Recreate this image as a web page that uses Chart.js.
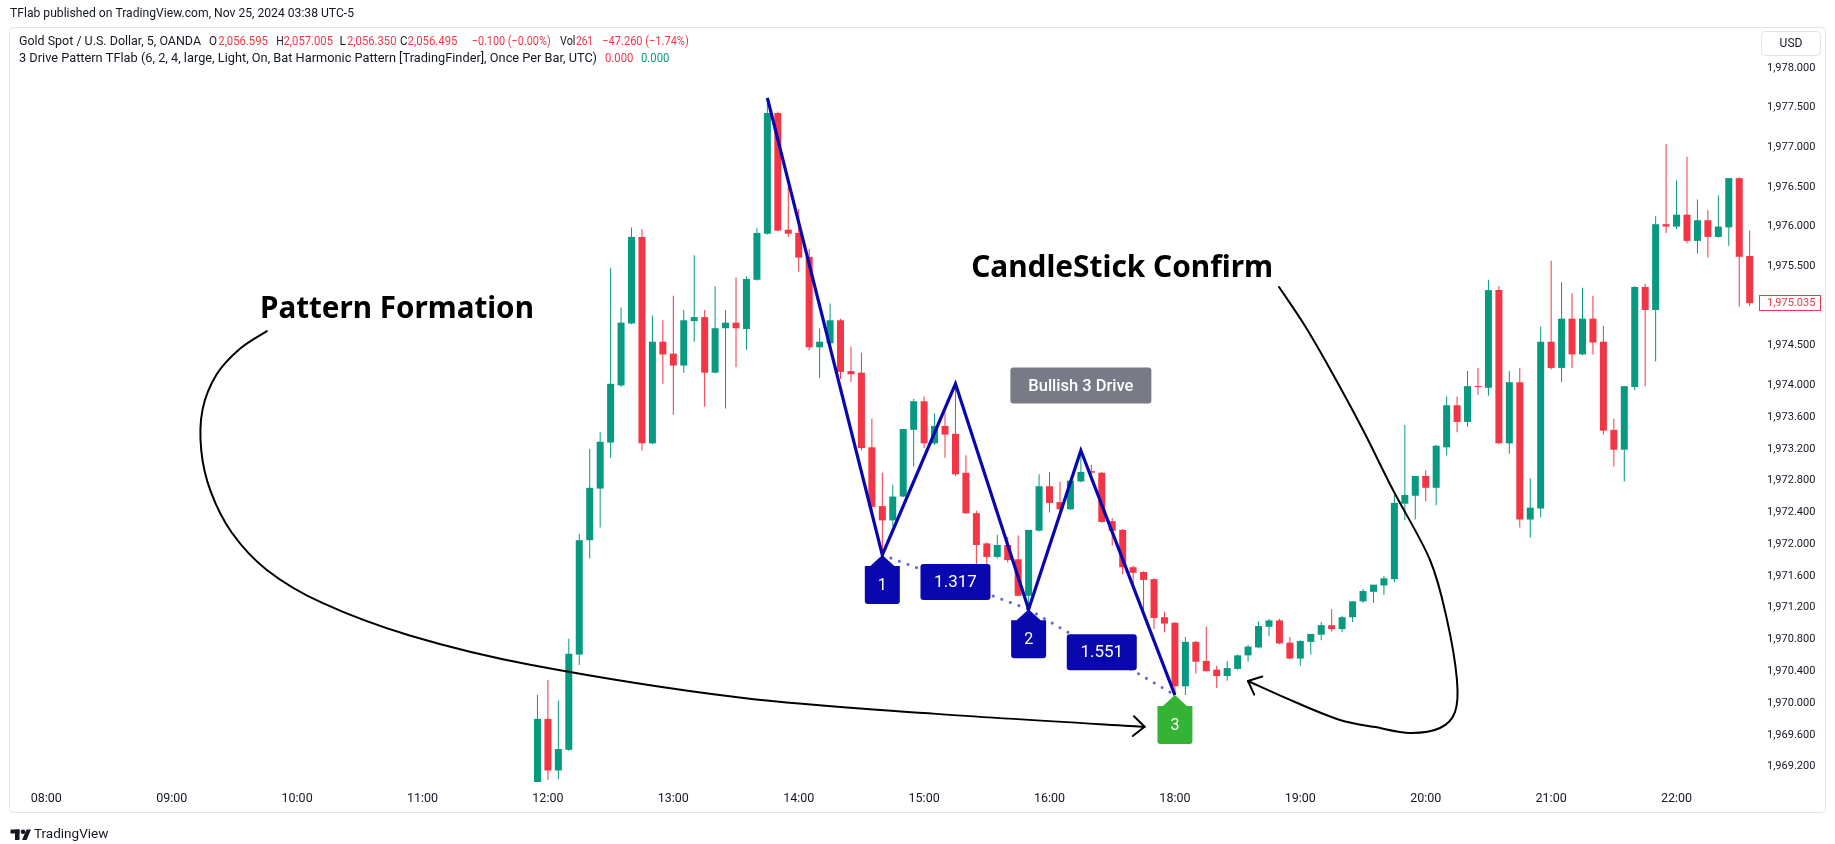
<!DOCTYPE html>
<html>
<head>
<meta charset="utf-8">
<title>Gold Spot 5m - 3 Drive Pattern</title>
<script src="https://cdn.jsdelivr.net/npm/chart.js@4.4.1/dist/chart.umd.min.js"></script>
<style>
  html, body { margin: 0; padding: 0; background: #fff; }
  #wrap { width: 1835px; height: 844px; }
</style>
</head>
<body>
<div id="wrap"><canvas id="chart" width="1835" height="844"></canvas></div>
<script>
// bar slots: 08:00 = 0, one slot per 5 min, session break 17:00-18:00 is skipped
const firstSlot = 47; // 11:55 bar

const opens = [
  1968.90, 1969.80, 1969.15, 1969.41, 1970.61, 1972.05, 1972.70, 1973.28, 1974.00, 1974.78, 1975.87, 1973.27,
  1974.55, 1974.40, 1974.25, 1974.81, 1974.86, 1974.16, 1974.72, 1974.79, 1974.71, 1975.33, 1975.91, 1977.43,
  1975.96, 1975.92, 1975.62, 1974.48, 1974.53, 1974.82, 1974.18, 1974.16, 1973.22, 1972.48, 1972.30, 1972.60,
  1973.44, 1973.80, 1973.27, 1973.49, 1973.39, 1972.90, 1972.39, 1972.01, 1971.84, 1971.99, 1971.81, 1971.35,
  1972.17, 1972.73, 1972.53, 1972.44, 1972.79, 1972.92, 1972.90, 1972.29, 1972.18, 1971.71, 1971.65, 1971.56,
  1971.08, 1971.01, 1970.21, 1970.77, 1970.53, 1970.42, 1970.34, 1970.43, 1970.60, 1970.70, 1970.96, 1971.04,
  1970.76, 1970.56, 1970.77, 1970.86, 1970.98, 1970.93, 1971.08, 1971.28, 1971.40, 1971.48, 1971.56, 1972.51,
  1972.61, 1972.86, 1972.71, 1973.22, 1973.75, 1973.54, 1973.99, 1973.97, 1975.20, 1973.27, 1974.04, 1972.31,
  1972.45, 1974.55, 1974.22, 1974.84, 1974.39, 1974.84, 1974.55, 1973.44, 1973.19, 1973.98, 1975.24, 1974.95,
  1976.03, 1976.00, 1976.15, 1975.82, 1976.08, 1975.87, 1975.99, 1976.61, 1975.63
];
const highs = [
  1970.10, 1970.29, 1970.03, 1970.81, 1972.13, 1973.20, 1973.41, 1975.48, 1974.98, 1975.99, 1975.97, 1974.88,
  1974.82, 1975.13, 1974.95, 1975.64, 1974.95, 1975.25, 1974.95, 1975.36, 1975.37, 1975.98, 1977.62, 1977.45,
  1976.50, 1976.22, 1975.72, 1974.72, 1975.03, 1974.84, 1974.49, 1974.41, 1973.58, 1972.90, 1972.75, 1973.45,
  1973.83, 1973.86, 1973.65, 1973.66, 1974.02, 1973.12, 1972.42, 1972.02, 1972.12, 1972.09, 1972.11, 1972.18,
  1972.88, 1972.91, 1972.79, 1972.82, 1973.18, 1973.00, 1972.91, 1972.33, 1972.19, 1971.73, 1971.66, 1971.57,
  1971.15, 1971.02, 1970.83, 1970.78, 1970.96, 1970.47, 1970.53, 1970.61, 1970.73, 1971.03, 1971.06, 1971.06,
  1970.83, 1970.79, 1970.87, 1971.02, 1971.18, 1971.10, 1971.28, 1971.44, 1971.49, 1971.60, 1972.62, 1973.50,
  1972.86, 1972.93, 1973.25, 1973.86, 1973.86, 1974.18, 1974.22, 1975.33, 1975.25, 1974.18, 1974.22, 1972.83,
  1974.74, 1975.57, 1975.30, 1975.16, 1975.23, 1975.13, 1974.75, 1973.58, 1973.99, 1975.25, 1975.28, 1976.13,
  1977.04, 1976.58, 1976.88, 1976.34, 1976.21, 1976.39, 1976.61, 1976.62, 1975.95
];
const lows = [
  1968.85, 1969.03, 1969.04, 1969.40, 1970.48, 1971.82, 1972.21, 1973.09, 1973.98, 1974.77, 1973.18, 1973.26,
  1974.02, 1973.63, 1974.16, 1974.55, 1973.73, 1974.15, 1973.71, 1974.23, 1974.45, 1975.32, 1975.90, 1975.94,
  1975.87, 1975.43, 1974.44, 1974.09, 1974.52, 1974.08, 1974.04, 1973.18, 1972.39, 1971.87, 1972.23, 1972.59,
  1972.98, 1973.21, 1973.25, 1973.09, 1972.86, 1972.38, 1971.72, 1971.31, 1971.82, 1971.77, 1971.35, 1971.18,
  1972.16, 1972.40, 1972.35, 1972.43, 1972.78, 1972.79, 1972.27, 1971.98, 1971.62, 1971.49, 1971.11, 1970.93,
  1970.89, 1970.10, 1970.10, 1970.37, 1970.40, 1970.19, 1970.28, 1970.42, 1970.52, 1970.69, 1970.84, 1970.74,
  1970.55, 1970.47, 1970.61, 1970.79, 1970.90, 1970.89, 1971.02, 1971.26, 1971.26, 1971.36, 1971.52, 1972.30,
  1972.31, 1972.54, 1972.49, 1973.12, 1973.41, 1973.48, 1973.88, 1973.87, 1973.26, 1973.14, 1972.21, 1972.08,
  1972.34, 1974.20, 1974.04, 1974.22, 1974.38, 1974.39, 1973.38, 1972.98, 1972.79, 1973.94, 1973.99, 1974.30,
  1975.92, 1975.97, 1975.79, 1975.66, 1975.61, 1975.86, 1975.76, 1974.99, 1975.00
];
const closes = [
  1969.80, 1969.15, 1969.42, 1970.62, 1972.05, 1972.71, 1973.29, 1974.02, 1974.79, 1975.87, 1973.27, 1974.55,
  1974.39, 1974.25, 1974.82, 1974.86, 1974.16, 1974.72, 1974.79, 1974.72, 1975.34, 1975.92, 1977.43, 1975.95,
  1975.91, 1975.61, 1974.48, 1974.55, 1974.82, 1974.17, 1974.14, 1973.21, 1972.47, 1972.30, 1972.60, 1973.45,
  1973.80, 1973.27, 1973.49, 1973.38, 1972.88, 1972.39, 1971.99, 1971.84, 1971.99, 1971.80, 1971.35, 1972.18,
  1972.73, 1972.52, 1972.44, 1972.80, 1972.91, 1972.90, 1972.28, 1972.17, 1971.71, 1971.64, 1971.55, 1971.07,
  1971.00, 1970.21, 1970.77, 1970.52, 1970.40, 1970.34, 1970.44, 1970.60, 1970.71, 1970.97, 1971.04, 1970.75,
  1970.56, 1970.78, 1970.87, 1970.98, 1970.93, 1971.08, 1971.28, 1971.41, 1971.49, 1971.57, 1972.52, 1972.62,
  1972.86, 1972.71, 1973.24, 1973.75, 1973.54, 1973.99, 1973.98, 1975.20, 1973.27, 1974.04, 1972.31, 1972.46,
  1974.55, 1974.22, 1974.84, 1974.39, 1974.84, 1974.54, 1973.43, 1973.19, 1973.99, 1975.24, 1974.95, 1976.03,
  1976.00, 1976.15, 1975.82, 1976.08, 1975.87, 1976.00, 1976.61, 1975.62, 1975.035
];

const hourSlots  = [0, 12, 24, 36, 48, 60, 72, 84, 96, 108, 120, 132, 144, 156];
const hourLabels = ['08:00', '09:00', '10:00', '11:00', '12:00', '13:00', '14:00', '15:00', '16:00',
                    '18:00', '19:00', '20:00', '21:00', '22:00'];
const priceTicks = [1978, 1977.5, 1977, 1976.5, 1976, 1975.5, 1974.5, 1974, 1973.6, 1973.2, 1972.8,
                    1972.4, 1972, 1971.6, 1971.2, 1970.8, 1970.4, 1970, 1969.6, 1969.2];
const lastPrice = 1975.035;

// 3 drive pattern: X, 1, A, 2, B, 3
const patternSlots  = [69, 80, 87, 94, 99, 108];
const patternPrices = [1977.62, 1971.865, 1974.02, 1971.18, 1973.18, 1970.10];
const driveNames = ['1', '2', '3'];
const ratioLabels = ['1.317', '1.551'];

// hand drawn arrows, in (slot, price)
const formationCurve = [
  [21.10, 1974.683], [18.53, 1974.462], [16.29, 1974.137], [14.95, 1973.695], [14.83, 1973.179],
  [15.73, 1972.664], [17.74, 1972.147], [21.10, 1971.676], [26.36, 1971.263], [34.77, 1970.850],
  [46.30, 1970.482], [66.34, 1970.069], [85.16, 1969.863], [105.10, 1969.700]
];
const confirmCurve = [
  [117.96, 1975.239], [120.45, 1974.748], [122.84, 1974.206], [125.90, 1973.463], [128.87, 1972.682],
  [132.41, 1971.801], [134.04, 1971.045], [134.99, 1970.289], [134.80, 1969.886], [133.36, 1969.685],
  [130.49, 1969.622], [127.15, 1969.697], [123.80, 1969.786], [119.49, 1970.012], [114.99, 1970.277]
];

const UP = '#089981', DOWN = '#f23645', INK = '#131722';
const PATTERN_BLUE = '#0808ae', DOT_BLUE = '#6666da';

const fmtPrice = v => v.toLocaleString('en-US', { minimumFractionDigits: 3, maximumFractionDigits: 3 });

const slots = opens.map((_, i) => firstSlot + i);
const colors = opens.map((o, i) => closes[i] < o ? DOWN : UP);

function smoothPath(c, pts) {
  c.moveTo(pts[0][0], pts[0][1]);
  for (let i = 0; i < pts.length - 1; i++) {
    const p0 = pts[i - 1] || pts[i], p1 = pts[i], p2 = pts[i + 1], p3 = pts[i + 2] || p2;
    c.bezierCurveTo(p1[0] + (p2[0] - p0[0]) / 6, p1[1] + (p2[1] - p0[1]) / 6,
                    p2[0] - (p3[0] - p1[0]) / 6, p2[1] - (p3[1] - p1[1]) / 6, p2[0], p2[1]);
  }
}

function arrowHead(c, tip, from, len, spread) {
  const a = Math.atan2(tip[1] - from[1], tip[0] - from[0]);
  c.beginPath();
  c.moveTo(tip[0] - len * Math.cos(a - spread), tip[1] - len * Math.sin(a - spread));
  c.lineTo(tip[0], tip[1]);
  c.lineTo(tip[0] - len * Math.cos(a + spread), tip[1] - len * Math.sin(a + spread));
  c.stroke();
}

function fitFont(c, text, weight, family, width) {
  c.font = `${weight} 40px ${family}`;
  const size = 40 * width / c.measureText(text).width;
  c.font = `${weight} ${size.toFixed(2)}px ${family}`;
}

function driveTag(c, x, y, text, fill) {
  const hw = 17.5;
  c.fillStyle = fill;
  c.beginPath();
  c.moveTo(x, y);
  c.lineTo(x + 12, y + 11);
  c.lineTo(x + hw, y + 11);
  c.lineTo(x + hw, y + 46);
  c.quadraticCurveTo(x + hw, y + 49, x + hw - 3, y + 49);
  c.lineTo(x - hw + 3, y + 49);
  c.quadraticCurveTo(x - hw, y + 49, x - hw, y + 46);
  c.lineTo(x - hw, y + 11);
  c.lineTo(x - 12, y + 11);
  c.closePath();
  c.fill();
  c.fillStyle = '#fff';
  c.font = '16px Roboto';
  c.textAlign = 'center';
  c.textBaseline = 'middle';
  c.fillText(text, x, y + 31);
}

function box(c, cx, cy, w, h, fill, text, font) {
  c.fillStyle = fill;
  c.beginPath();
  c.roundRect(cx - w / 2, cy - h / 2, w, h, 3);
  c.fill();
  c.fillStyle = '#fff';
  c.font = font;
  c.textAlign = 'center';
  c.textBaseline = 'middle';
  c.fillText(text, cx, cy + 1);
}

const overlay = {
  id: 'overlay',
  beforeDraw(chart) {
    const c = chart.ctx;
    c.save();
    c.fillStyle = '#fff';
    c.fillRect(0, 0, chart.width, chart.height);
    c.strokeStyle = '#e0e3eb';
    c.lineWidth = 1;
    c.beginPath();
    c.roundRect(9.5, 27.5, 1816, 785, 4);
    c.stroke();
    c.restore();
  },
  afterDatasetsDraw(chart) {
    const c = chart.ctx, xs = chart.scales.x, ys = chart.scales.y;
    const pt = (k, p) => [xs.getPixelForValue(k), ys.getPixelForValue(p)];
    const P = patternSlots.map((k, i) => pt(k, patternPrices[i]));
    c.save();

    // dotted connectors between the drives
    c.strokeStyle = DOT_BLUE;
    c.lineWidth = 3;
    c.lineCap = 'round';
    c.setLineDash([0.1, 9]);
    [[1, 3], [3, 5]].forEach(([a, b]) => {
      c.beginPath();
      c.moveTo(P[a][0], P[a][1]);
      c.lineTo(P[b][0], P[b][1]);
      c.stroke();
    });
    c.setLineDash([]);

    // zigzag
    c.strokeStyle = PATTERN_BLUE;
    c.lineWidth = 3.2;
    c.lineJoin = 'miter';
    c.lineCap = 'butt';
    c.beginPath();
    P.forEach((p, i) => i ? c.lineTo(p[0], p[1]) : c.moveTo(p[0], p[1]));
    c.stroke();

    // ratio boxes on the connector midpoints
    ratioLabels.forEach((t, i) => {
      const a = P[1 + 2 * i], b = P[3 + 2 * i];
      box(c, (a[0] + b[0]) / 2, (a[1] + b[1]) / 2, 70, 36, PATTERN_BLUE, t, '17px Roboto');
    });

    // drive tags
    driveTag(c, P[1][0], P[1][1], driveNames[0], PATTERN_BLUE);
    driveTag(c, P[3][0], P[3][1], driveNames[1], PATTERN_BLUE);
    driveTag(c, P[5][0], P[5][1], driveNames[2], '#35b335');

    // pattern name
    const nb = pt(99, 1974.0);
    box(c, nb[0], nb[1], 141, 36, '#787b86', 'Bullish 3 Drive', '500 16.5px Roboto');

    // hand drawn arrows
    c.strokeStyle = '#000';
    c.lineWidth = 2;
    c.lineCap = 'round';
    c.lineJoin = 'round';
    [formationCurve, confirmCurve].forEach(curve => {
      const pts = curve.map(q => pt(q[0], q[1]));
      c.beginPath();
      smoothPath(c, pts);
      c.stroke();
      arrowHead(c, pts[pts.length - 1], pts[pts.length - 2], 15, 0.72);
    });

    // big notes
    c.fillStyle = '#000';
    c.textAlign = 'left';
    c.textBaseline = 'middle';
    const n1 = pt(20.45, 1974.95);
    fitFont(c, 'Pattern Formation', 'bold', '"Noto Sans"', 274);
    c.fillText('Pattern Formation', n1[0], n1[1]);
    const n2 = pt(88.5, 1975.47);
    fitFont(c, 'CandleStick Confirm', 'bold', '"Noto Sans"', 302);
    c.fillText('CandleStick Confirm', n2[0], n2[1]);
    c.restore();
  },
  afterDraw(chart) {
    const c = chart.ctx, ys = chart.scales.y;
    c.save();
    c.textBaseline = 'middle';
    c.textAlign = 'left';
    c.font = '13px Roboto';
    c.fillStyle = INK;
    c.fillText('TFlab published on TradingView.com, Nov 25, 2024 03:38 UTC-5', 10, 14, 344);

    // legend rows: [text, left, max width, colour]
    const line2 = [
      ['Gold Spot / U.S. Dollar, 5, OANDA', 19, 182, INK], ['O', 209, 8, INK], ['2,056.595', 218.3, 49.5, DOWN],
      ['H', 276.3, 7.5, INK], ['2,057.005', 283.5, 49.5, DOWN], ['L', 339.5, 6.5, INK], ['2,056.350', 347, 49.5, DOWN],
      ['C', 400, 7.5, INK], ['2,056.495', 407.5, 50, DOWN], ['\u22120.100 (\u22120.00%)', 471.7, 79, DOWN],
      ['Vol', 560, 15.5, INK], ['261', 576, 17, DOWN], ['\u221247.260 (\u22121.74%)', 602.3, 86.5, DOWN]
    ];
    c.font = '13px Roboto';
    line2.forEach(([t, x, w, col]) => { c.fillStyle = col; c.fillText(t, x, 41.7, w); });
    const line3 = [
      ['3 Drive Pattern TFlab (6, 2, 4, large, Light, On, Bat Harmonic Pattern [TradingFinder], Once Per Bar, UTC)', 19, 578, INK],
      ['0.000', 605, 28.3, DOWN], ['0.000', 641, 28.3, UP]
    ];
    line3.forEach(([t, x, w, col]) => { c.fillStyle = col; c.fillText(t, x, 58.3, w); });

    // currency button
    c.strokeStyle = '#e0e3eb';
    c.lineWidth = 1;
    c.beginPath();
    c.roundRect(1761.5, 31.5, 59, 24, 4);
    c.stroke();
    c.fillStyle = INK;
    c.font = '12px Roboto';
    c.textAlign = 'center';
    c.fillText('USD', 1791, 44);

    // last price tag
    const ly = Math.round(ys.getPixelForValue(lastPrice));
    c.fillStyle = '#fff';
    c.fillRect(1759, ly - 8, 62, 16);
    c.strokeStyle = DOWN;
    c.strokeRect(1759.5, ly - 7.5, 61, 15);
    c.fillStyle = DOWN;
    c.font = '11px Roboto';
    c.textAlign = 'left';
    c.fillText(fmtPrice(lastPrice), 1767, ly + 0.5);

    // TradingView mark
    c.fillStyle = INK;
    c.fillRect(10.5, 829.5, 9, 4);
    c.fillRect(15, 829.5, 4.5, 10.5);
    c.beginPath();
    c.arc(23, 831.8, 2.3, 0, Math.PI * 2);
    c.fill();
    c.beginPath();
    c.moveTo(26.5, 829.5); c.lineTo(31, 829.5); c.lineTo(26.5, 840); c.lineTo(22, 840);
    c.closePath();
    c.fill();
    c.font = '13.5px Roboto';
    c.fillText('TradingView', 34, 835);
    c.restore();
  }
};

new Chart(document.getElementById('chart'), {
  type: 'bar',
  data: {
    datasets: [
      {
        label: 'wick',
        data: slots.map((k, i) => ({ x: k, y: [lows[i], highs[i]] })),
        backgroundColor: colors,
        barThickness: 1,
        grouped: false,
        inflateAmount: 0,
        clip: 0,
        order: 2
      },
      {
        label: 'body',
        data: slots.map((k, i) => ({ x: k, y: [opens[i], closes[i]] })),
        backgroundColor: colors,
        barThickness: 7,
        minBarLength: 1,
        grouped: false,
        inflateAmount: 0,
        clip: 0,
        order: 1
      }
    ]
  },
  options: {
    responsive: false,
    animation: false,
    events: [],
    layout: { padding: { left: 10, top: 28, right: 0, bottom: 30 } },
    plugins: { legend: { display: false }, tooltip: { enabled: false } },
    scales: {
      x: {
        type: 'linear',
        min: -3.474,
        max: 163.7,
        offset: false,
        afterBuildTicks: s => { s.ticks = hourSlots.map(v => ({ value: v })); },
        afterFit: s => { s.height = 32; },
        grid: { display: false, drawTicks: false },
        border: { display: false },
        ticks: {
          autoSkip: false,
          maxRotation: 0,
          padding: 9,
          color: INK,
          font: { family: 'Roboto', size: 12.5 },
          callback: (v, i) => hourLabels[i]
        }
      },
      y: {
        position: 'right',
        min: 1969.005,
        max: 1978.501,
        afterBuildTicks: s => { s.ticks = priceTicks.map(v => ({ value: v })); },
        afterFit: s => { s.width = 78; },
        grid: { display: false, drawTicks: false },
        border: { display: false },
        ticks: {
          autoSkip: false,
          padding: 10,
          color: INK,
          font: { family: 'Roboto', size: 11 },
          callback: v => fmtPrice(v)
        }
      }
    }
  },
  plugins: [overlay]
});
</script>
</body>
</html>
